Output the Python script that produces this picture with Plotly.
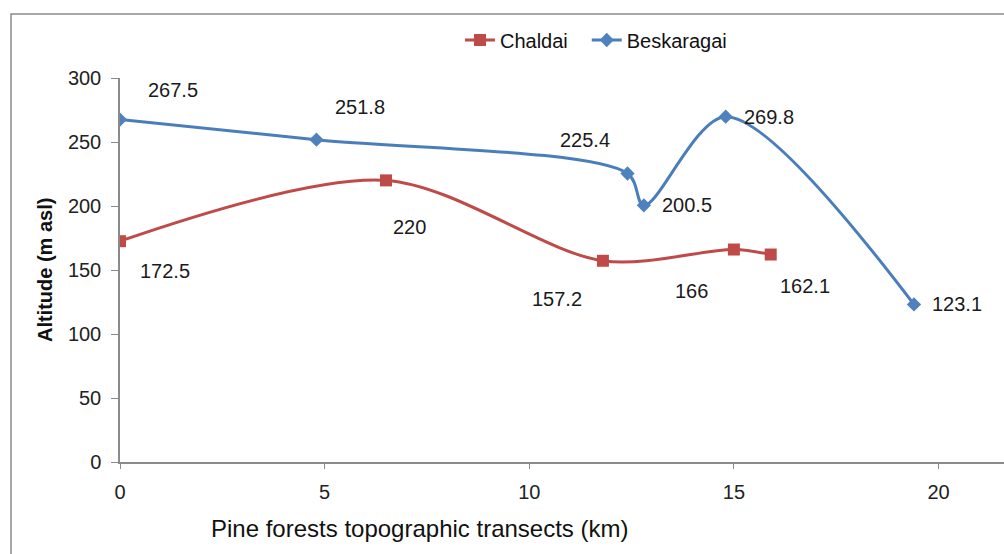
import plotly.graph_objects as go

# Transect distance (km) and altitude (m asl) for the two pine forests
chaldai_km = [0, 6.5, 11.8, 15.0, 15.9]
chaldai_alt = [172.5, 220, 157.2, 166, 162.1]
besk_km = [0, 4.8, 12.4, 12.8, 14.8, 19.4]
besk_alt = [267.5, 251.8, 225.4, 200.5, 269.8, 123.1]

x_ticks = [0, 5, 10, 15, 20]
y_ticks = [0, 50, 100, 150, 200, 250, 300]

FONT = "Liberation Sans, Arial, sans-serif"
RED = "#BE4B48"
BLUE = "#4A7EBB"

fig = go.Figure()
fig.add_trace(go.Scatter(
    x=chaldai_km, y=chaldai_alt, name="Chaldai", mode="lines+markers",
    line=dict(color=RED, width=3, shape="spline", smoothing=0.9),
    marker=dict(symbol="square", size=12, color=RED),
    legend="legend",
))
fig.add_trace(go.Scatter(
    x=besk_km, y=besk_alt, name="Beskaragai", mode="lines+markers",
    line=dict(color=BLUE, width=3, shape="spline", smoothing=0.9),
    marker=dict(symbol="diamond", size=11, color="#4F81BD"),
    legend="legend2",
))

# Data labels: (xshift, yshift, xanchor) per point
besk_offsets = [(26, 30, "left"), (17, 33, "left"), (-15, 33, "right"),
                (16, 0, "left"), (16, 0, "left"), (16, 0, "left")]
chaldai_offsets = [(18, -30, "left"), (5, -47, "left"), (-19, -38, "right"),
                   (-24, -41, "right"), (7, -31, "left")]

annotations = []
for xs, ys, offs in [(besk_km, besk_alt, besk_offsets),
                     (chaldai_km, chaldai_alt, chaldai_offsets)]:
    for x, y, (dx, dy, anc) in zip(xs, ys, offs):
        annotations.append(dict(
            x=x, y=y, xref="x", yref="y", text=f"{y:g}", showarrow=False,
            xshift=dx, yshift=dy, xanchor=anc, yanchor="middle",
            font=dict(family=FONT, size=20, color="#1a1a1a"),
        ))

annotations.append(dict(
    x=0.339, y=-0.172, xref="paper", yref="paper",
    text="Pine forests topographic transects (km)", showarrow=False,
    xanchor="center", yanchor="middle",
    font=dict(family=FONT, size=24, color="#111111"),
))
annotations.append(dict(
    x=-0.0848, y=0.5, xref="paper", yref="paper",
    text="<b>Altitude (m asl)</b>", showarrow=False, textangle=-90,
    xanchor="center", yanchor="middle",
    font=dict(family=FONT, size=20, color="#111111"),
))

legend_style = dict(
    orientation="h", y=1.099, xanchor="left", yanchor="middle",
    font=dict(family=FONT, size=20, color="#111111"),
    bgcolor="rgba(0,0,0,0)", itemwidth=30,
)

fig.update_layout(
    width=1004, height=554,
    margin=dict(l=120, r=0, t=78, b=92),
    paper_bgcolor="white", plot_bgcolor="white",
    font=dict(family=FONT, size=20, color="#222222"),
    showlegend=True,
    legend=dict(x=0.3846, **legend_style),
    legend2=dict(x=0.528, **legend_style),
    xaxis=dict(
        range=[0, 21.6], tickvals=x_ticks, showgrid=False, zeroline=False,
        showline=True, linecolor="#8a8a8a", linewidth=1.5,
        ticks="outside", ticklen=5, tickcolor="#8a8a8a",
        ticklabelstandoff=6,
        tickfont=dict(family=FONT, size=20, color="#222222"),
    ),
    yaxis=dict(
        range=[0, 300], tickvals=y_ticks, showgrid=False, zeroline=False,
        showline=True, linecolor="#8a8a8a", linewidth=1.5,
        ticks="outside", ticklen=7, tickcolor="#8a8a8a",
        ticklabelstandoff=6,
        tickfont=dict(family=FONT, size=20, color="#222222"),
    ),
    annotations=annotations,
    shapes=[dict(
        type="rect", xref="paper", yref="paper",
        x0=-0.1233, y0=-0.6, x1=1.2, y1=1.1667,
        line=dict(color="#8c8c8c", width=1.5), fillcolor="rgba(0,0,0,0)",
        layer="below",
    )],
)

fig.write_html("out.html")
